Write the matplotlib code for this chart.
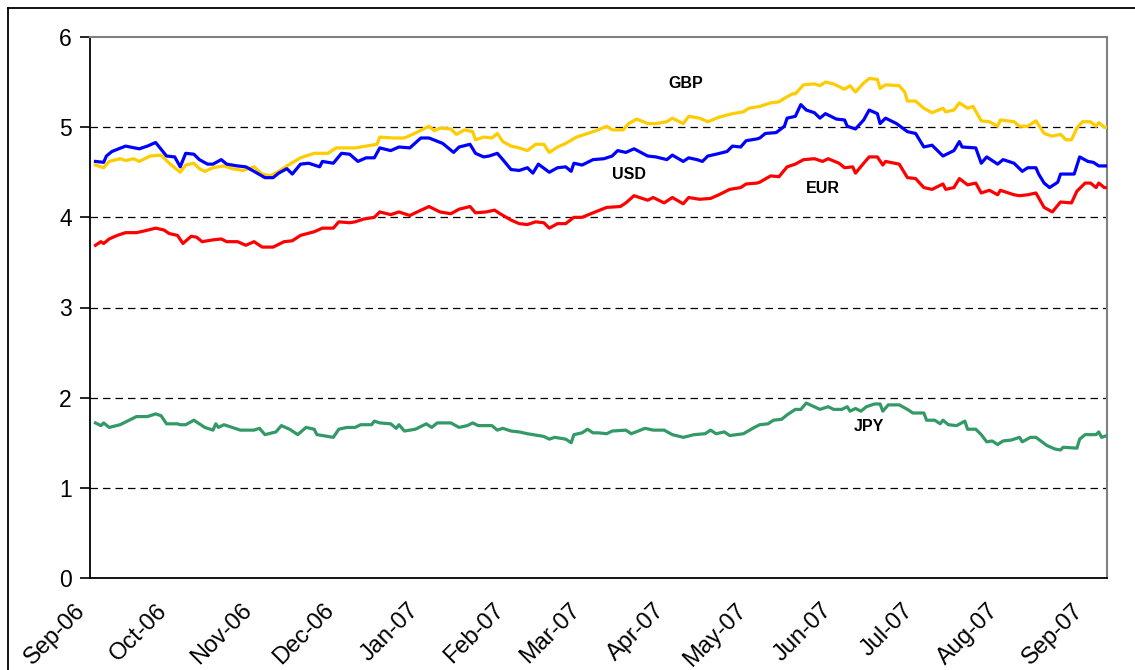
import numpy as np
import pandas as pd
import matplotlib
matplotlib.use("Agg")
from matplotlib import pyplot as plt
from matplotlib.lines import Line2D
from matplotlib.transforms import ScaledTranslation
import matplotlib.dates as mdates

# days counted from 1 Sep 2006, values in %
start = pd.Timestamp("2006-09-01")

usd_day = [2, 5, 6, 8, 13, 18, 21, 24, 28, 31, 33, 35, 38, 40, 43, 45, 48, 50, 54, 57,
           60, 64, 67, 69, 72, 74, 77, 80, 84, 85, 89, 92, 95, 98, 101, 104, 106, 110, 113, 117,
           121, 124, 129, 133, 135, 139, 141, 144, 146, 149, 151, 154, 157, 160, 162, 164, 168, 171, 174, 176,
           177, 180, 184, 188, 191, 193, 196, 199, 204, 207, 211, 213, 217, 219, 222, 224, 226, 229, 233, 235,
           238, 240, 244, 245, 247, 251, 254, 255, 258, 260, 262, 265, 267, 269, 273, 276, 277, 280, 283, 285,
           288, 289, 291, 295, 299, 302, 305, 308, 312, 316, 318, 319, 324, 326, 328, 332, 334, 338, 341, 343,
           346, 347, 349, 351, 354, 355, 360, 362, 365, 367, 369, 372]
usd_val = [4.62, 4.61, 4.68, 4.73, 4.79, 4.76, 4.79, 4.83, 4.68, 4.67, 4.56, 4.71, 4.70, 4.64, 4.59, 4.59, 4.64, 4.59, 4.57, 4.56,
           4.51, 4.44, 4.44, 4.49, 4.54, 4.48, 4.59, 4.60, 4.56, 4.62, 4.60, 4.71, 4.70, 4.62, 4.66, 4.66, 4.77, 4.74, 4.78, 4.77,
           4.88, 4.88, 4.82, 4.72, 4.78, 4.81, 4.71, 4.67, 4.68, 4.71, 4.64, 4.53, 4.52, 4.55, 4.49, 4.59, 4.50, 4.55, 4.56, 4.51,
           4.60, 4.58, 4.64, 4.65, 4.68, 4.74, 4.72, 4.76, 4.68, 4.67, 4.64, 4.69, 4.62, 4.66, 4.64, 4.62, 4.68, 4.70, 4.73, 4.79,
           4.78, 4.85, 4.87, 4.88, 4.93, 4.94, 5.01, 5.10, 5.12, 5.25, 5.19, 5.16, 5.10, 5.15, 5.09, 5.08, 5.01, 4.98, 5.08, 5.19,
           5.15, 5.04, 5.10, 5.04, 4.95, 4.93, 4.78, 4.80, 4.68, 4.74, 4.84, 4.78, 4.77, 4.60, 4.67, 4.59, 4.64, 4.60, 4.51, 4.55,
           4.55, 4.48, 4.38, 4.33, 4.39, 4.48, 4.48, 4.67, 4.62, 4.61, 4.57, 4.57]

gbp_day = [2, 5, 7, 11, 13, 16, 18, 22, 26, 29, 33, 35, 38, 40, 42, 45, 49, 52, 56, 60,
           63, 66, 69, 72, 77, 82, 87, 90, 94, 97, 101, 105, 106, 111, 115, 118, 122, 124, 126, 128,
           132, 134, 137, 140, 141, 144, 147, 149, 151, 154, 157, 160, 163, 166, 168, 171, 174, 178, 182, 185,
           189, 191, 195, 197, 200, 204, 207, 211, 213, 217, 219, 223, 226, 230, 235, 239, 241, 245, 249, 252,
           254, 257, 258, 261, 265, 267, 269, 272, 276, 278, 280, 283, 285, 288, 289, 291, 296, 298, 299, 302,
           305, 308, 312, 313, 316, 318, 321, 323, 326, 329, 332, 333, 338, 340, 343, 346, 349, 352, 355, 357,
           359, 361, 363, 366, 368, 369, 371, 372]
gbp_val = [4.58, 4.55, 4.62, 4.65, 4.63, 4.65, 4.62, 4.68, 4.69, 4.60, 4.50, 4.58, 4.60, 4.54, 4.51, 4.55, 4.57, 4.54, 4.52, 4.56,
           4.48, 4.46, 4.51, 4.57, 4.66, 4.71, 4.71, 4.77, 4.77, 4.77, 4.79, 4.81, 4.89, 4.88, 4.88, 4.92, 4.98, 5.01, 4.96, 4.99,
           4.98, 4.92, 4.97, 4.95, 4.86, 4.89, 4.88, 4.93, 4.84, 4.79, 4.77, 4.74, 4.81, 4.81, 4.72, 4.78, 4.82, 4.89, 4.93, 4.96,
           5.01, 4.97, 4.97, 5.04, 5.09, 5.04, 5.04, 5.06, 5.10, 5.04, 5.12, 5.10, 5.06, 5.11, 5.15, 5.17, 5.21, 5.23, 5.27, 5.28,
           5.32, 5.37, 5.37, 5.47, 5.48, 5.46, 5.50, 5.48, 5.42, 5.46, 5.39, 5.49, 5.54, 5.53, 5.43, 5.47, 5.46, 5.39, 5.29, 5.29,
           5.21, 5.16, 5.21, 5.17, 5.19, 5.27, 5.21, 5.23, 5.07, 5.06, 5.01, 5.08, 5.06, 5.01, 5.01, 5.07, 4.93, 4.90, 4.92, 4.86,
           4.86, 4.99, 5.06, 5.06, 5.01, 5.05, 5.00, 5.00]

eur_day = [2, 4, 5, 7, 10, 13, 17, 20, 24, 27, 29, 32, 34, 37, 39, 41, 45, 48, 50, 54,
           57, 60, 63, 67, 71, 74, 77, 82, 85, 89, 91, 95, 97, 100, 104, 106, 110, 113, 117, 119,
           124, 128, 132, 135, 139, 141, 145, 148, 150, 154, 157, 160, 163, 166, 168, 171, 174, 177, 180, 184,
           189, 194, 196, 199, 204, 206, 210, 213, 217, 219, 223, 227, 230, 234, 238, 240, 244, 245, 249, 252,
           255, 258, 261, 265, 268, 270, 274, 276, 279, 280, 283, 285, 288, 290, 291, 296, 299, 302, 305, 308,
           312, 313, 316, 318, 321, 324, 326, 329, 332, 333, 338, 340, 343, 346, 349, 352, 355, 359, 361, 364,
           366, 368, 369, 371, 372]
eur_val = [3.69, 3.73, 3.71, 3.76, 3.80, 3.83, 3.83, 3.85, 3.88, 3.86, 3.82, 3.80, 3.71, 3.79, 3.78, 3.73, 3.75, 3.76, 3.73, 3.73,
           3.69, 3.73, 3.67, 3.67, 3.73, 3.74, 3.80, 3.84, 3.88, 3.88, 3.95, 3.94, 3.95, 3.98, 4.00, 4.06, 4.03, 4.06, 4.02, 4.05,
           4.12, 4.06, 4.04, 4.09, 4.12, 4.05, 4.06, 4.08, 4.04, 3.97, 3.93, 3.92, 3.95, 3.94, 3.88, 3.93, 3.93, 4.00, 4.00, 4.05,
           4.11, 4.12, 4.16, 4.24, 4.19, 4.22, 4.16, 4.22, 4.15, 4.22, 4.20, 4.21, 4.25, 4.31, 4.33, 4.37, 4.38, 4.39, 4.46, 4.45,
           4.56, 4.59, 4.64, 4.65, 4.62, 4.65, 4.60, 4.55, 4.56, 4.49, 4.60, 4.67, 4.67, 4.58, 4.62, 4.59, 4.44, 4.43, 4.33, 4.31,
           4.37, 4.31, 4.33, 4.43, 4.36, 4.38, 4.27, 4.30, 4.25, 4.30, 4.25, 4.24, 4.25, 4.27, 4.11, 4.06, 4.17, 4.16, 4.29, 4.38,
           4.38, 4.33, 4.38, 4.33, 4.33]

jpy_day = [2, 4, 5, 7, 11, 15, 17, 21, 24, 26, 28, 32, 33, 35, 38, 42, 45, 46, 47, 49,
           52, 55, 60, 62, 64, 68, 70, 73, 76, 79, 82, 83, 87, 89, 91, 94, 97, 99, 103, 104,
           106, 110, 112, 113, 115, 119, 123, 125, 127, 132, 135, 138, 140, 142, 147, 149, 151, 154, 157, 160,
           162, 166, 168, 170, 174, 176, 177, 180, 182, 184, 186, 189, 191, 196, 198, 203, 206, 210, 213, 217,
           221, 225, 227, 229, 232, 234, 239, 243, 245, 248, 250, 253, 255, 258, 260, 262, 267, 268, 270, 272,
           275, 277, 278, 280, 282, 284, 287, 289, 290, 292, 296, 299, 301, 305, 306, 309, 311, 312, 314, 317,
           320, 321, 324, 326, 328, 330, 332, 334, 337, 340, 341, 344, 346, 350, 353, 355, 356, 361, 362, 364,
           368, 369, 370, 372]
jpy_val = [1.72, 1.69, 1.72, 1.67, 1.70, 1.76, 1.79, 1.79, 1.82, 1.80, 1.71, 1.71, 1.70, 1.70, 1.75, 1.67, 1.64, 1.71, 1.67, 1.70,
           1.67, 1.64, 1.64, 1.66, 1.59, 1.62, 1.69, 1.65, 1.59, 1.67, 1.65, 1.59, 1.57, 1.56, 1.65, 1.67, 1.67, 1.70, 1.70, 1.74,
           1.72, 1.71, 1.66, 1.70, 1.63, 1.65, 1.71, 1.67, 1.72, 1.72, 1.67, 1.69, 1.72, 1.69, 1.69, 1.64, 1.66, 1.63, 1.62, 1.60,
           1.59, 1.57, 1.54, 1.56, 1.54, 1.50, 1.59, 1.61, 1.65, 1.61, 1.61, 1.60, 1.63, 1.64, 1.60, 1.66, 1.64, 1.64, 1.59, 1.56,
           1.59, 1.60, 1.64, 1.60, 1.62, 1.58, 1.60, 1.67, 1.70, 1.71, 1.75, 1.76, 1.81, 1.87, 1.87, 1.94, 1.87, 1.88, 1.90, 1.87,
           1.87, 1.90, 1.85, 1.88, 1.85, 1.90, 1.93, 1.93, 1.85, 1.92, 1.92, 1.87, 1.83, 1.83, 1.75, 1.75, 1.71, 1.75, 1.70, 1.69,
           1.74, 1.65, 1.65, 1.59, 1.51, 1.52, 1.48, 1.52, 1.53, 1.56, 1.51, 1.56, 1.56, 1.47, 1.43, 1.42, 1.45, 1.44, 1.54, 1.59,
           1.59, 1.62, 1.56, 1.58]

series = [("GBP", gbp_day, gbp_val, "#FFCC00"),
          ("USD", usd_day, usd_val, "#0000FF"),
          ("EUR", eur_day, eur_val, "#FF0000"),
          ("JPY", jpy_day, jpy_val, "#339966")]

# label spots (day, value)
labels = {"GBP": (218, 5.48), "USD": (197, 4.47), "EUR": (268, 4.32), "JPY": (285, 1.68)}

yticks = [0, 1, 2, 3, 4, 5, 6]
month_ticks = pd.date_range("2006-09-01", "2007-09-01", freq="MS")


def to_dates(days):
    return start + pd.to_timedelta(np.array(days), unit="D")


plt.rcParams['font.family'] = ['Liberation Sans', 'DejaVu Sans']

W, H = 1135, 670
fig = plt.figure(figsize=(W / 100, H / 100), dpi=100)
ax = fig.add_axes([90 / W, 1 - 578 / H, (1107 - 90) / W, (578 - 37) / H])

for name, d, v, col in series:
    ax.plot(to_dates(d), v, color=col, lw=2.3, solid_joinstyle="round", zorder=3)
    lx, ly = labels[name]
    ax.text(start + pd.Timedelta(days=lx), ly, name, ha="center", va="center",
            fontsize=11.5, fontweight="bold", zorder=4)

for y in yticks[1:-1]:
    ax.axhline(y, color="black", lw=0.9, ls=(0, (6, 4)), zorder=1)

ax.set_xlim(start, start + pd.Timedelta(days=372))
ax.set_ylim(0, 6)
ax.set_yticks(yticks)
ax.set_xticks(month_ticks)
ax.xaxis.set_major_formatter(mdates.DateFormatter("%b-%y"))

ax.tick_params(axis="y", labelsize=16.5, length=7, width=1.2, pad=6, direction="out")
ax.tick_params(axis="x", labelsize=17, length=0, pad=21)
shift = ScaledTranslation(-8 / 100, 0, fig.dpi_scale_trans)
for lab in ax.get_xticklabels():
    lab.set_rotation(45)
    lab.set_ha("right")
    lab.set_va("center")
    lab.set_rotation_mode("anchor")
    lab.set_transform(lab.get_transform() + shift)

for s in ["left", "bottom"]:
    ax.spines[s].set_color("black")
    ax.spines[s].set_linewidth(1.3)
for s in ["top", "right"]:
    ax.spines[s].set_color("#808080")
    ax.spines[s].set_linewidth(1.5)

# outer chart border (left and top edges visible)
fig.add_artist(Line2D([8 / W, 8 / W], [0, 1 - 8 / H], color="black", lw=1.3))
fig.add_artist(Line2D([8 / W, 1], [1 - 8 / H, 1 - 8 / H], color="black", lw=1.3))

fig.savefig("out.png", dpi=100, facecolor="white")
